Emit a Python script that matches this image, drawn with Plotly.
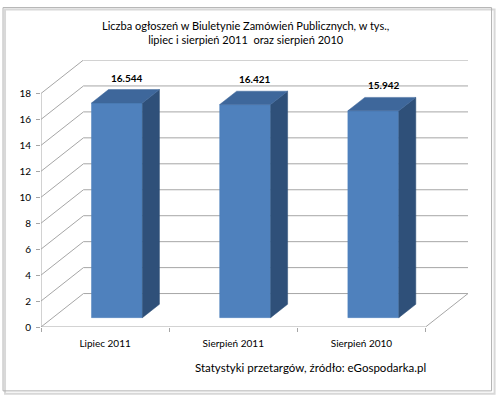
import plotly.graph_objects as go

# ---- data ----
categories = ["Lipiec 2011", "Sierpień 2011", "Sierpień 2010"]
values = [16.544, 16.421, 15.942]
value_labels = ["16.544", "16.421", "15.942"]
y_ticks = [0, 2, 4, 6, 8, 10, 12, 14, 16, 18]
title_lines = ["Liczba ogłoszeń w Biuletynie Zamówień Publicznych, w tys.,",
               "lipiec i sierpień 2011  oraz sierpień 2010"]
source_text = "Statystyki przetargów, źródło: eGospodarka.pl"

# ---- geometry (pixel-derived) ----
W, H = 500, 397
PX_X = 128.3          # px per category
PX_Y = 13.0           # px per unit
X0_PX, Y0_PX = 41, 327
DX = 42.5 / PX_X      # depth offset of walls (category units)
DY = 33.5 / PX_Y      # depth offset of walls (value units)
N = len(categories)
XMAX = N + DX
YMAX = y_ticks[-1] + DY
plot_w = XMAX * PX_X
plot_h = YMAX * PX_Y
m_l = X0_PX
m_r = W - X0_PX - plot_w
m_b = H - Y0_PX
m_t = Y0_PX - plot_h

BAR_W = 51 / PX_X
T0, T1 = 0.28, 0.68

FONT = "Lato, 'Open Sans', sans-serif"
GRID = "#A6A6A6"
FRONT = "#4F81BD"
TOP = "#3E679B"
SIDE = "#2F5079"

fig = go.Figure()

# gridlines / walls
gx, gy = [], []
for v in y_ticks:
    gx += [0, DX, XMAX, None]
    gy += [v, v + DY, v + DY, None]
# floor front and right edges
gx += [0, N, N + DX, None]
gy += [0, 0, DY, None]
# front vertical axis line
gx += [0, 0, None]
gy += [0, y_ticks[-1], None]
fig.add_trace(go.Scatter(x=gx, y=gy, mode="lines", line=dict(color=GRID, width=1),
                         hoverinfo="skip", showlegend=False, cliponaxis=False))

# 3D bars
for i, v in enumerate(values):
    xl = i + 0.5 - BAR_W / 2 + T0 * DX
    xr = xl + BAR_W
    yb = T0 * DY
    yt = v + T0 * DY
    ddx = (T1 - T0) * DX
    ddy = (T1 - T0) * DY
    # front
    fig.add_trace(go.Scatter(x=[xl, xr, xr, xl, xl], y=[yb, yb, yt, yt, yb],
                             fill="toself", fillcolor=FRONT, mode="lines",
                             line=dict(color=FRONT, width=0.5),
                             hoverinfo="skip", showlegend=False))
    # side
    fig.add_trace(go.Scatter(x=[xr, xr + ddx, xr + ddx, xr, xr],
                             y=[yb, yb + ddy, yt + ddy, yt, yb],
                             fill="toself", fillcolor=SIDE, mode="lines",
                             line=dict(color=SIDE, width=0.5),
                             hoverinfo="skip", showlegend=False))
    # top
    fig.add_trace(go.Scatter(x=[xl, xr, xr + ddx, xl + ddx, xl],
                             y=[yt, yt, yt + ddy, yt + ddy, yt],
                             fill="toself", fillcolor=TOP, mode="lines",
                             line=dict(color=TOP, width=0.5),
                             hoverinfo="skip", showlegend=False))
    # value label
    fig.add_annotation(x=i + 0.5 + 0.52 * DX, y=v + T1 * DY,
                       text="<b>" + value_labels[i] + "</b>",
                       showarrow=False, xanchor="center", yanchor="middle", yshift=12,
                       font=dict(family=FONT, size=10, color="#000000"),
                       xref="x", yref="y")


def px2paper_x(px):
    return (px - m_l) / plot_w


def px2paper_y(py):
    return (H - m_b - py) / plot_h


# title
fig.add_annotation(x=px2paper_x(246), y=px2paper_y(32), xref="paper", yref="paper",
                   text="<br>".join(title_lines), showarrow=False, align="center",
                   xanchor="center", yanchor="middle",
                   font=dict(family=FONT, size=11, color="#000000"))
# source
fig.add_annotation(x=px2paper_x(311), y=px2paper_y(368), xref="paper", yref="paper",
                   text=source_text, showarrow=False,
                   xanchor="center", yanchor="middle",
                   font=dict(family=FONT, size=11.5, color="#000000"))

# frame with shadow
fig.add_shape(type="rect", xref="paper", yref="paper",
              x0=px2paper_x(5), x1=px2paper_x(495), y0=px2paper_y(394), y1=px2paper_y(9),
              line=dict(color="#D8D8D8", width=2), layer="below")
fig.add_shape(type="rect", xref="paper", yref="paper",
              x0=px2paper_x(3), x1=px2paper_x(492), y0=px2paper_y(391), y1=px2paper_y(7),
              line=dict(color="#B0B0B0", width=1), layer="below")

fig.update_layout(
    width=W, height=H,
    margin=dict(l=m_l, r=m_r, t=m_t, b=m_b, pad=0),
    paper_bgcolor="white", plot_bgcolor="white",
    xaxis=dict(range=[0, XMAX], showgrid=False, zeroline=False, showline=False,
               tickvals=[i + 0.5 for i in range(N)], ticktext=categories,
               ticks="", ticklabelstandoff=9,
               tickfont=dict(family=FONT, size=10, color="#000000"),
               minor=dict(tickvals=list(range(N + 1)), ticks="outside", ticklen=4,
                          tickcolor=GRID, showgrid=False),
               fixedrange=True),
    yaxis=dict(range=[0, YMAX], showgrid=False, zeroline=False, showline=False,
               tickvals=y_ticks, ticks="outside", ticklen=4, tickcolor=GRID,
               ticklabelstandoff=3,
               tickfont=dict(family=FONT, size=10, color="#000000"),
               fixedrange=True),
    showlegend=False,
)

fig.write_html("out.html", config={"displayModeBar": False},
               post_script="document.body.style.margin='0';document.body.style.overflow='hidden';")
